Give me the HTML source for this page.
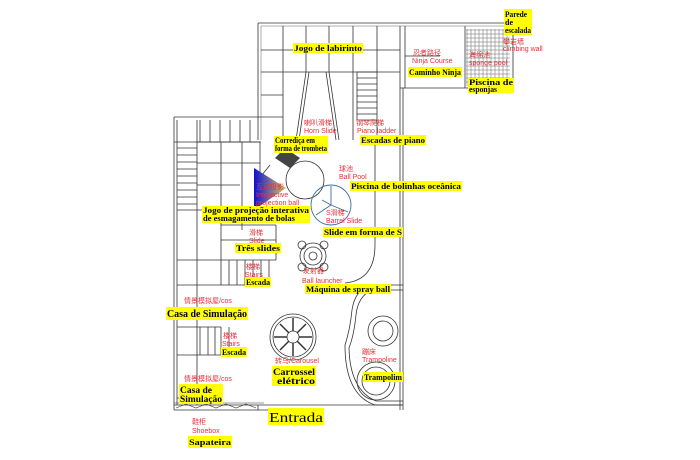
<!DOCTYPE html>
<html><head><meta charset="utf-8"><style>
html,body{margin:0;padding:0;background:#fff}
svg{display:block}
.y{fill:#ffff00}
.t{font-family:"Liberation Serif","Noto Serif CJK SC",serif;font-size:8px;font-weight:bold;fill:#000}
.r{font-family:"Liberation Sans","Noto Sans CJK SC",sans-serif;font-size:7px;fill:#e8303a}
</style></head><body>
<svg width="700" height="460" viewBox="0 0 700 460" xmlns="http://www.w3.org/2000/svg">
<g stroke="#333" stroke-width="0.8" fill="none">
<path d="M258 23 H513 V88 M258 23 V140"/>
<path d="M261 26 H510 M261 26 V140" stroke="#999"/>
<path d="M283 26 V140 M306 26 V72 M329 26 V72 M353 26 V140 M377 26 V140 M400 26 V410 M403 88 V410"/>
<path d="M261 50 H400 M261 72 H400 M261 95 H283 M261 117 H283"/>
<path d="M400 88 H513 M405 26 V88 M465 26 V88"/>
<path d="M405 56 H440"/>
<path d="M306 72 L296 140 M309 72 L299 140 M326 72 L336 140 M329 72 L339 140"/>
<path d="M357 72 H377 M357 78 H377 M357 84 H377 M357 90 H377 M357 96 H377 M357 102 H377 M357 108 H377 M357 114 H377 M357 120 H377 M357 72 V120"/>
<path d="M174 117 H261 M174 117 V410 M177 120 V405 M197 120 V142 M174 142 H261"/>
<path d="M197 142 V260 M200 120 V142 M210 120 V142 M220 120 V142 M230 120 V142 M240 120 V142 M250 120 V142"/>
<path d="M177 148 H197 M177 155 H197 M177 162 H197 M177 169 H197 M177 176 H197 M177 183 H197 M177 190 H197 M177 197 H197 M177 204 H197"/>
<path d="M197 142 H260 M221 142 V260 M242 142 V230 M260 142 V200 M197 163 H260 M197 185 H240 M197 210 H221 M177 210 H197"/>
<path d="M221 225 H276 M276 225 V260 M221 240 H276 M177 260 H276 M177 285 H221 M197 260 V405"/>
<path d="M221 260 V285 M229 260 V285 M237 260 V285 M245 260 V285 M253 260 V285 M261 260 V285 M269 260 V285 M221 285 H269"/>
<path d="M177 327 H221 M200 327 V355 M208 327 V355 M215 327 V355 M221 327 V355 M229 327 V355 M177 355 H221 M177 398 H197"/>
<path d="M174 405 H403 M174 410 H270 M258 405 V410"/>
<path d="M174 403 H264 M176 408 L186 404 L196 408 L206 404 L216 408 L226 404 L236 408 L246 404 L256 408" stroke-width="0.6"/>
<path d="M375 140 V245 Q375 280 345 283"/>
<path d="M270 165 L258 180 M258 180 V215"/>
<path d="M403 285 H370 Q355 290 352 310 Q350 330 345 345 Q345 395 375 405 H403"/>
<path d="M403 290 H372 Q358 296 356 315 Q354 335 349 348 Q350 390 376 401 H403"/>
<circle cx="383" cy="331" r="15"/><circle cx="383" cy="331" r="10"/>
<circle cx="376" cy="381" r="19"/><circle cx="376" cy="381" r="14"/>
<circle cx="293" cy="337" r="23"/><circle cx="293" cy="337" r="20"/><circle cx="293" cy="337" r="6"/>
<path d="M293 318 V331 M293 343 V356 M274 337 H287 M299 337 H312 M280 324 L289 333 M297 341 L306 350 M306 324 L297 333 M289 341 L280 350" stroke-width="1.5"/>
<circle cx="313" cy="256" r="13"/><circle cx="313" cy="256" r="9"/><circle cx="313" cy="256" r="4"/>
<circle cx="302" cy="245" r="4"/><circle cx="324" cy="245" r="4"/><circle cx="302" cy="267" r="4"/><circle cx="324" cy="267" r="4"/>
<circle cx="305" cy="180" r="19"/>
</g>
<path d="M275 158 L285 148 L300 158 L290 168 Z" fill="#444"/>
<defs><linearGradient id="g" x1="0" x2="1"><stop offset="0" stop-color="#1010d0"/><stop offset="1" stop-color="#d8c860"/></linearGradient></defs>
<path d="M254 168 L286 188 L254 210 Z" fill="url(#g)"/>
<g stroke="#3a6ea0" stroke-width="0.9" fill="none">
<circle cx="331" cy="205" r="20"/>
<path d="M331 205 L331 186 M331 205 L348 212 M331 205 L316 215 M322 200 L331 205"/>
</g>
<g fill="none" stroke="#666" stroke-width="0.5">
<path d="M467 29 V86 M471 29 V86 M475 29 V86 M479 29 V86 M483 29 V86 M487 29 V86 M491 29 V86 M495 29 V86 M499 29 V86 M503 29 V86 M507 29 V86"/>
<path d="M466 30 H510 M466 34 H510 M466 38 H510 M466 42 H510 M466 46 H510 M466 50 H510 M466 54 H510 M466 58 H510 M466 62 H510 M466 66 H510 M466 70 H510 M466 74 H510 M466 78 H510 M466 82 H510"/>
</g>
<g class="y">
<rect x="504" y="9" width="28" height="26"/>
<rect x="293" y="43" width="70" height="10"/>
<rect x="408" y="67" width="54" height="10"/>
<rect x="468" y="78" width="46" height="15"/>
<rect x="274" y="136" width="54" height="17"/>
<rect x="360" y="135" width="66" height="10"/>
<rect x="350" y="181" width="112" height="10"/>
<rect x="202" y="206" width="108" height="17"/>
<rect x="323" y="227" width="80" height="10"/>
<rect x="235" y="243" width="46" height="10"/>
<rect x="245" y="277" width="26" height="10"/>
<rect x="305" y="284" width="86" height="10"/>
<rect x="166" y="307" width="82" height="13"/>
<rect x="221" y="347" width="26" height="10"/>
<rect x="272" y="366" width="44" height="20"/>
<rect x="363" y="372" width="40" height="10"/>
<rect x="179" y="384" width="44" height="20"/>
<rect x="268" y="408" width="56" height="17"/>
<rect x="188" y="436" width="44" height="12"/>
</g>
<g class="t" lengthAdjust="spacingAndGlyphs">
<text x="505" y="17" textLength="22" lengthAdjust="spacingAndGlyphs">Parede</text><text x="505" y="25">de</text><text x="505" y="33" textLength="26" lengthAdjust="spacingAndGlyphs">escalada</text>
<text x="294" y="51" textLength="68" lengthAdjust="spacingAndGlyphs">Jogo de labirinto</text>
<text x="409" y="75" textLength="52" lengthAdjust="spacingAndGlyphs">Caminho Ninja</text>
<text x="469" y="85" textLength="44" lengthAdjust="spacingAndGlyphs">Piscina de</text><text x="469" y="92" textLength="28" lengthAdjust="spacingAndGlyphs">esponjas</text>
<text x="275" y="143" textLength="40" lengthAdjust="spacingAndGlyphs">Corrediça em</text><text x="275" y="151" textLength="52" lengthAdjust="spacingAndGlyphs">forma de trombeta</text>
<text x="361" y="143" textLength="64" lengthAdjust="spacingAndGlyphs">Escadas de piano</text>
<text x="351" y="189" textLength="110" lengthAdjust="spacingAndGlyphs">Piscina de bolinhas oceânica</text>
<text x="203" y="213" textLength="106" lengthAdjust="spacingAndGlyphs">Jogo de projeção interativa</text><text x="203" y="221" textLength="92" lengthAdjust="spacingAndGlyphs">de esmagamento de bolas</text>
<text x="324" y="235" textLength="78" lengthAdjust="spacingAndGlyphs">Slide em forma de S</text>
<text x="236" y="251" textLength="44" lengthAdjust="spacingAndGlyphs">Três slides</text>
<text x="246" y="285" textLength="24" lengthAdjust="spacingAndGlyphs">Escada</text>
<text x="306" y="292" textLength="84" lengthAdjust="spacingAndGlyphs">Máquina de spray ball</text>
<text x="167" y="317" style="font-size:10px" textLength="80" lengthAdjust="spacingAndGlyphs">Casa de Simulação</text>
<text x="222" y="355" textLength="24" lengthAdjust="spacingAndGlyphs">Escada</text>
<text x="273" y="375" style="font-size:9px" textLength="42" lengthAdjust="spacingAndGlyphs">Carrossel</text><text x="277" y="384" style="font-size:9px" textLength="38" lengthAdjust="spacingAndGlyphs">elétrico</text>
<text x="364" y="380" textLength="38" lengthAdjust="spacingAndGlyphs">Trampolim</text>
<text x="180" y="393" style="font-size:9px" textLength="32" lengthAdjust="spacingAndGlyphs">Casa de</text><text x="180" y="402" style="font-size:9px" textLength="42" lengthAdjust="spacingAndGlyphs">Simulação</text>
<text x="269" y="422" style="font-size:14px;font-weight:normal" textLength="54" lengthAdjust="spacingAndGlyphs">Entrada</text>
<text x="189" y="445" textLength="42" lengthAdjust="spacingAndGlyphs">Sapateira</text>
</g>
<g class="r">
<text x="413" y="55">忍者路径</text><text x="412" y="63">Ninja Course</text>
<text x="503" y="44">攀岩墙</text><text x="503" y="51">climbing wall</text>
<text x="469" y="57">海绵池</text><text x="469" y="65">sponge pool</text>
<text x="304" y="125">喇叭滑梯</text><text x="304" y="133">Horn Slide</text>
<text x="356" y="125">钢琴爬梯</text><text x="357" y="133">Piano ladder</text>
<text x="339" y="171">球池</text><text x="339" y="179">Ball Pool</text>
<text x="256" y="189">互动投影</text><text x="256" y="197">Interactive</text><text x="256" y="205">projection ball</text>
<text x="326" y="215">S滑梯</text><text x="326" y="223">Barrel Slide</text>
<text x="249" y="235">滑梯</text><text x="249" y="243">Slide</text>
<text x="246" y="269">楼梯</text><text x="245" y="277">Stairs</text>
<text x="303" y="273">发射器</text><text x="302" y="283">Ball launcher</text>
<text x="184" y="303">情景模拟屋/cos</text>
<text x="223" y="338">楼梯</text><text x="222" y="346">Stairs</text>
<text x="275" y="363">转马/Carousel</text>
<text x="362" y="354">蹦床</text><text x="362" y="362">Trampoline</text>
<text x="184" y="381">情景模拟屋/cos</text>
<text x="192" y="424">鞋柜</text><text x="192" y="433">Shoebox</text>
</g>
</svg>
</body></html>
